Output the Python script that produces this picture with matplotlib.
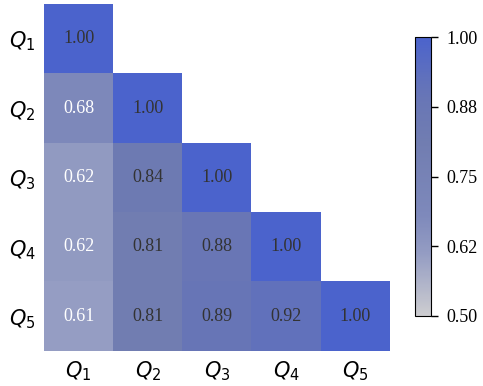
import numpy as np
import matplotlib
matplotlib.use('Agg')
import matplotlib.pyplot as plt
from matplotlib.colors import LinearSegmentedColormap

labels = ['$Q_1$', '$Q_2$', '$Q_3$', '$Q_4$', '$Q_5$']
row1 = [1.00]
row2 = [0.68, 1.00]
row3 = [0.62, 0.84, 1.00]
row4 = [0.62, 0.81, 0.88, 1.00]
row5 = [0.61, 0.81, 0.89, 0.92, 1.00]
rows = [row1, row2, row3, row4, row5]

n = len(labels)
mat = np.full((n, n), np.nan)
for i, r in enumerate(rows):
    mat[i, :len(r)] = r
data = np.ma.masked_invalid(mat)

# gray -> blue map picked off the colorbar
cmap = LinearSegmentedColormap.from_list('gb', [
    (0.0, '#cdcdd0'), (0.22, '#959dc3'), (0.36, '#7e89bb'),
    (0.62, '#717db1'), (0.78, '#6876b6'), (0.84, '#6272bb'), (1.0, '#4b63cc')])
cmap.set_bad('white')

fig = plt.figure(figsize=(4.83, 3.86), dpi=100)
ax = fig.add_axes([44/483, 1 - 351/386, 346/483, 347/386])
im = ax.imshow(data, cmap=cmap, vmin=0.5, vmax=1.0, aspect='auto')

for i, r in enumerate(rows):
    for j, v in enumerate(r):
        col = 'white' if v < 0.7 else '#333333'
        ax.text(j, i, f'{v:.2f}', ha='center', va='center', color=col,
                fontsize=13, family='Liberation Serif')

ax.set_xticks(range(n))
ax.set_yticks(range(n))
ax.set_xticklabels(labels, fontsize=15)
ax.set_yticklabels(labels, fontsize=15)
ax.tick_params(length=0, pad=6)
for s in ax.spines.values():
    s.set_visible(False)

cax = fig.add_axes([415/483, 1 - 316/386, 16/483, 279/386])
cb = fig.colorbar(im, cax=cax, ticks=np.linspace(0.5, 1.0, 5))
cb.ax.set_yticklabels([f'{t:.2f}' for t in np.linspace(0.5, 1.0, 5)],
                      family='Liberation Serif', fontsize=13)
cb.outline.set_edgecolor('black')
cb.ax.tick_params(length=5, width=1, pad=6)

plt.savefig('out.png', dpi=100)
